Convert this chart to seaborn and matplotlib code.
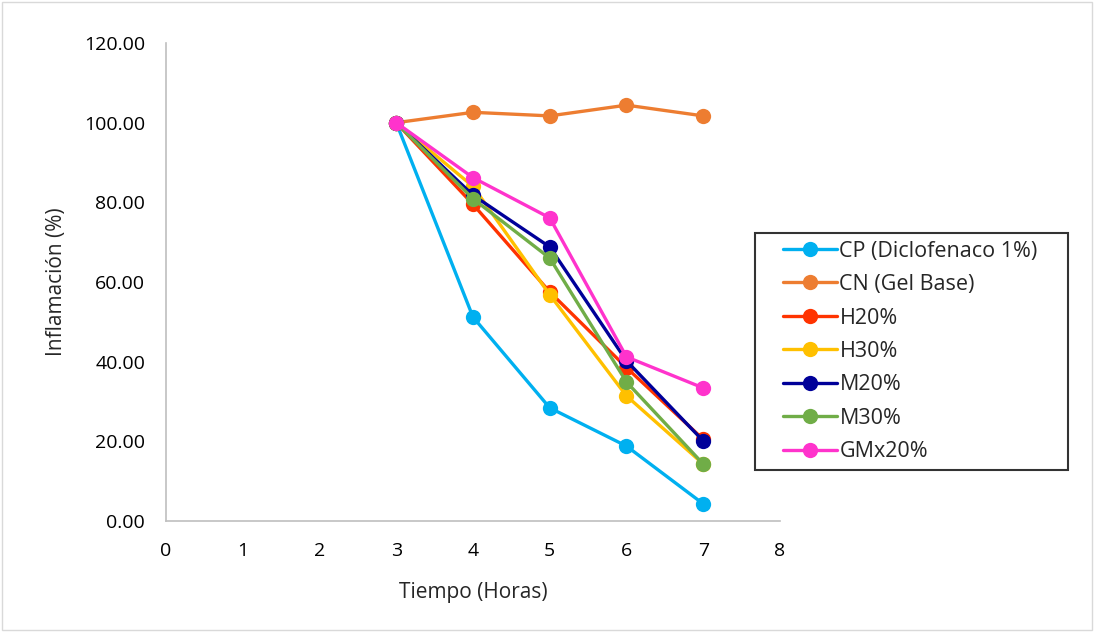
import matplotlib
matplotlib.use("Agg")
import matplotlib.pyplot as plt
import seaborn as sns
import pandas as pd
from matplotlib.ticker import FormatStrFormatter, MultipleLocator
from matplotlib.legend_handler import HandlerLine2D

hours = [3, 4, 5, 6, 7]
cp = [100.0, 51.2, 28.4, 18.8, 4.3]
cn = [100.0, 102.6, 101.7, 104.4, 101.7]
h20 = [100.0, 79.5, 57.5, 38.5, 20.5]
h30 = [100.0, 84.0, 56.8, 31.4, 14.3]
m20 = [100.0, 81.8, 68.8, 40.2, 20.1]
m30 = [100.0, 80.9, 66.0, 34.9, 14.3]
gmx20 = [100.0, 86.2, 76.1, 41.2, 33.4]

series_names = ["CP (Diclofenaco 1%)", "CN (Gel Base)", "H20%", "H30%", "M20%", "M30%", "GMx20%"]
series_values = [cp, cn, h20, h30, m20, m30, gmx20]
colors = ["#00B0F0", "#ED7D31", "#FF3300", "#FFC000", "#000099", "#70AD47", "#FF33CC"]

rows = []
for name, vals in zip(series_names, series_values):
    for h, v in zip(hours, vals):
        rows.append({"Tiempo": h, "Inflamacion": v, "Serie": name})
df = pd.DataFrame(rows)

sns.set_style("white")
plt.rcParams['font.family'] = ['Open Sans', 'DejaVu Sans']

fig = plt.figure(figsize=(10.94, 6.32), dpi=100)
ax = fig.add_axes([166/1094, 1 - 521/632, (780-166)/1094, (521-43)/632])

sns.lineplot(data=df, x="Tiempo", y="Inflamacion", hue="Serie", hue_order=series_names,
             palette=colors, marker="o", markersize=11, markeredgewidth=0,
             linewidth=2.4, dashes=False, ax=ax, legend=True)

ax.set_xlim(0, 8)
ax.set_ylim(0, 120)
ax.xaxis.set_major_locator(MultipleLocator(1))
ax.yaxis.set_major_locator(MultipleLocator(20))
ax.yaxis.set_major_formatter(FormatStrFormatter("%.2f"))
ax.tick_params(axis="y", length=0, labelsize=14, colors="black", pad=15)
ax.tick_params(axis="x", length=0, labelsize=14, colors="black", pad=15)
ax.set_xlabel("Tiempo (Horas)", fontsize=15, labelpad=16)
ax.set_ylabel("Inflamación (%)", fontsize=15, labelpad=12)
for s in ["top", "right"]:
    ax.spines[s].set_visible(False)
for s in ["left", "bottom"]:
    ax.spines[s].set_color("#BFBFBF")
    ax.spines[s].set_linewidth(1.2)


class OffsetHandler(HandlerLine2D):
    def __init__(self, offset_px, **kw):
        super().__init__(**kw)
        self.offset_px = offset_px

    def create_artists(self, legend, orig_handle, xdescent, ydescent, width,
                       height, fontsize, trans):
        off = self.offset_px
        return super().create_artists(legend, orig_handle, xdescent - off, ydescent,
                                      width - off, height, fontsize, trans)


handles, labels = ax.get_legend_handles_labels()
ax.legend_.remove()
hmap = {h: OffsetHandler(15) for h in handles}
leg = fig.legend(handles, labels, loc="upper left", mode="expand",
                 bbox_to_anchor=(755/1094, 1 - 472/632, 313/1094, 239/632), fontsize=15.5,
                 frameon=True, fancybox=False, edgecolor="black",
                 handlelength=3.45, borderpad=0.35, labelspacing=0.58,
                 handletextpad=0.12, borderaxespad=0, handler_map=hmap)
leg.get_frame().set_linewidth(1.5)

border = plt.Rectangle((0.002, 0.003), 0.996, 0.994, transform=fig.transFigure,
                       fill=False, edgecolor="#D9D9D9", linewidth=1)
fig.patches.append(border)

fig.savefig("out.png", dpi=100)
